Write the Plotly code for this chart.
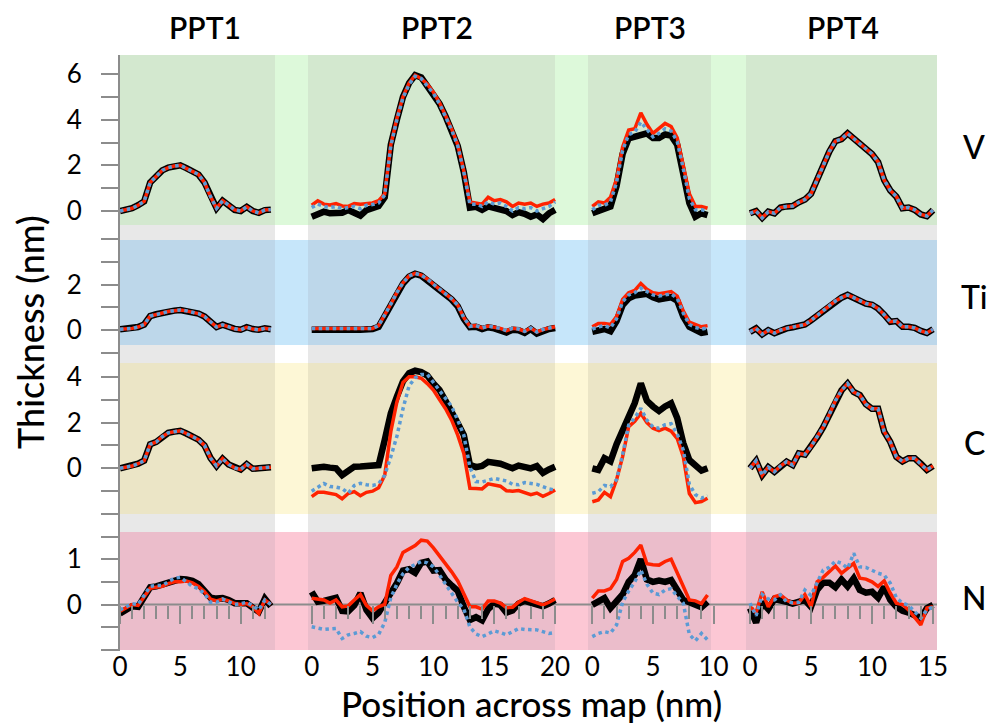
import plotly.graph_objects as go

# ---------------- data ----------------
ROWS = ["V", "Ti", "C", "N"]
PANELS = ["PPT1", "PPT2", "PPT3", "PPT4"]

X1 = [0, 0.5, 1, 1.5, 2, 2.5, 3, 3.5, 4, 4.5, 5, 5.5, 6, 6.5, 7, 7.5, 8, 8.5, 9, 9.5,
      10, 10.5, 11, 11.5, 12, 12.5]
X2 = [0, 0.5, 1, 1.5, 2, 2.5, 3, 3.5, 4, 4.5, 5, 5.5, 6, 6.5, 7, 7.5, 8, 8.5, 9, 9.5,
      10, 10.5, 11, 11.5, 12, 12.5, 13, 13.5, 14, 14.5, 15, 15.5, 16, 16.5, 17, 17.5,
      18, 18.5, 19, 19.5, 20]
X3 = [0, 0.5, 1, 1.5, 2, 2.5, 3, 3.5, 4, 4.5, 5, 5.5, 6, 6.5, 7, 7.5, 8, 8.5, 9, 9.5]
X4 = [0, 0.5, 1, 1.5, 2, 2.5, 3, 3.5, 4, 4.5, 5, 5.5, 6, 6.5, 7, 7.5, 8, 8.5, 9, 9.5,
      10, 10.5, 11, 11.5, 12, 12.5, 13, 13.5, 14, 14.5, 15]

# PPT1
V1 = [0, 0.05, 0.12, 0.25, 0.42, 1.25, 1.5, 1.78, 1.9, 1.97, 2.0, 1.88, 1.74, 1.6, 1.25,
      0.63, 0.12, 0.45, 0.26, 0.05, 0.0, 0.18, 0.0, -0.08, 0.04, 0.06]
Ti1 = [0.04, 0.06, 0.08, 0.14, 0.25, 0.62, 0.7, 0.77, 0.82, 0.86, 0.89, 0.85, 0.79, 0.73,
       0.6, 0.35, 0.14, 0.24, 0.14, 0.06, 0.02, 0.13, 0.05, 0.02, 0.08, 0.04]
C1 = [0, 0.05, 0.1, 0.2, 0.33, 1.05, 1.15, 1.38, 1.55, 1.6, 1.64, 1.52, 1.38, 1.25, 1.0,
      0.45, 0.1, 0.42, 0.17, 0.02, -0.05, 0.18, -0.02, 0.0, 0.05, 0.05]
N1_black = [-0.2, -0.1, -0.04, -0.05, 0.2, 0.38, 0.4, 0.44, 0.5, 0.54, 0.56, 0.55, 0.52,
            0.45, 0.32, 0.15, 0.13, 0.14, 0.1, 0.03, 0.03, 0.03, -0.07, -0.16, 0.13, -0.04]
N1_red = [-0.15, -0.08, 0.0, -0.02, 0.18, 0.36, 0.38, 0.4, 0.46, 0.5, 0.5, 0.52, 0.48, 0.4,
          0.28, 0.12, 0.08, 0.12, 0.08, 0.02, 0.0, 0.02, -0.05, -0.2, 0.1, 0.0]
N1_blue = [-0.12, -0.05, 0.02, 0.0, 0.2, 0.4, 0.42, 0.42, 0.5, 0.58, 0.6, 0.5, 0.4, 0.35,
           0.24, 0.05, 0.05, 0.12, 0.07, 0.0, 0.02, 0.05, -0.03, -0.12, 0.1, 0.0]

# PPT2
V2_black = [-0.25, -0.1, -0.03, -0.1, -0.12, -0.08, 0.04, -0.05, -0.2, 0.04, 0.1, 0.22, 0.6,
            2.9, 4.0, 5.0, 5.6, 5.95, 5.85, 5.5, 5.15, 4.7, 4.15, 3.55, 2.85, 1.7, 0.15,
            0.18, 0.05, 0.2, 0.15, 0.05, 0.0, -0.18, -0.05, -0.12, -0.25, -0.15, -0.35,
            -0.1, 0.05]
V2_red = [0.26, 0.45, 0.3, 0.26, 0.33, 0.22, 0.2, 0.33, 0.3, 0.33, 0.35, 0.45, 0.75, 2.9,
          4.05, 5.0, 5.6, 5.95, 5.8, 5.55, 5.2, 4.75, 4.2, 3.6, 2.9, 1.75, 0.4, 0.35, 0.3,
          0.6, 0.45, 0.5, 0.4, 0.2, 0.35, 0.3, 0.35, 0.2, 0.3, 0.35, 0.5]
V2_blue = [0.15, 0.3, 0.2, 0.15, 0.2, 0.1, 0.15, 0.2, 0.1, 0.25, 0.28, 0.35, 0.7, 2.85, 4.0,
           4.95, 5.55, 5.9, 5.8, 5.5, 5.15, 4.7, 4.15, 3.55, 2.85, 1.7, 0.3, 0.3, 0.2, 0.4,
           0.3, 0.35, 0.2, 0.0, 0.15, 0.1, 0.15, 0.0, 0.1, 0.2, 0.4]
Ti2_black = [0.02, 0.03, 0.04, 0.03, 0.02, 0.04, 0.03, 0.03, 0.02, 0.04, 0.05, 0.15, 0.6,
             1.1, 1.6, 2.05, 2.35, 2.48, 2.4, 2.2, 1.97, 1.75, 1.52, 1.35, 1.05, 0.5, 0.13,
             0.15, 0.05, 0.13, 0.08, 0.02, -0.1, 0.02, 0.0, -0.12, 0.05, -0.15, -0.02, 0.05,
             0.1]
Ti2_red = [0.08, 0.08, 0.07, 0.06, 0.05, 0.07, 0.05, 0.06, 0.05, 0.06, 0.08, 0.2, 0.65,
           1.15, 1.65, 2.08, 2.38, 2.5, 2.42, 2.25, 2.02, 1.8, 1.57, 1.38, 1.1, 0.55, 0.17,
           0.2, 0.1, 0.18, 0.13, 0.08, -0.02, 0.08, 0.05, -0.05, 0.1, -0.08, 0.03, 0.1, 0.15]
C2_black = [0.0, 0.05, 0.07, 0.03, 0.0, -0.3, -0.1, 0.07, 0.08, 0.1, 0.1, 0.14, 1.24, 2.4,
            3.13, 3.8, 4.15, 4.26, 4.2, 4.05, 3.7, 3.42, 2.95, 2.5, 1.97, 1.45, 0.15, 0.05,
            0.1, 0.28, 0.25, 0.2, 0.1, 0.0, 0.12, 0.05, 0.0, 0.1, -0.2, -0.05, 0.07]
C2_red = [-1.24, -1.05, -1.05, -1.1, -1.15, -1.33, -1.1, -1.02, -1.2, -1.05, -1.0, -0.85,
          -0.3, 1.6, 2.9, 3.75, 4.0, 4.0, 3.93, 3.7, 3.42, 3.0, 2.6, 2.1, 1.45, 0.65, -0.87,
          -0.88, -0.9, -0.68, -0.72, -0.78, -0.98, -1.0, -0.97, -1.05, -1.15, -1.08, -1.22,
          -1.1, -0.95]
C2_blue = [-1.0, -0.85, -0.66, -0.8, -0.82, -0.88, -1.09, -0.75, -0.66, -0.72, -0.75, -0.68,
           -0.3, 0.5, 1.4, 2.6, 3.6, 3.95, 4.1, 4.1, 3.75, 3.45, 3.1, 2.7, 2.1, 1.45, 0.05,
           -0.58, -0.6, -0.5, -0.44, -0.5, -0.55, -0.7, -0.72, -0.62, -0.66, -0.7, -0.8,
           -0.9, -0.95]
N2_black = [0.28, 0.06, 0.08, 0.12, 0.15, -0.14, -0.15, -0.02, 0.25, -0.12, -0.3, -0.18,
            0.03, 0.28, 0.47, 0.75, 0.78, 0.7, 0.92, 0.95, 0.75, 0.76, 0.55, 0.42, 0.3,
            -0.05, -0.34, -0.28, -0.35, -0.1, 0.02, -0.01, -0.18, -0.13, 0.02, 0.08, 0.04,
            0.0, -0.04, 0.02, 0.1]
N2_red = [0.14, 0.12, 0.1, 0.03, 0.1, -0.05, -0.03, 0.1, 0.22, -0.02, -0.14, -0.05, 0.0,
          0.64, 0.83, 1.15, 1.22, 1.3, 1.42, 1.4, 1.25, 1.08, 0.9, 0.72, 0.52, 0.25, -0.05,
          -0.05, -0.1, 0.08, 0.08, 0.03, -0.07, -0.06, 0.05, 0.13, 0.08, 0.03, -0.01, 0.05,
          0.12]
N2_blue = [-0.49, -0.52, -0.55, -0.54, -0.53, -0.75, -0.67, -0.64, -0.6, -0.7, -0.73, -0.66,
           -0.4, 0.15, 0.45, 0.68, 0.82, 0.88, 0.95, 0.92, 0.83, 0.65, 0.45, 0.25, 0.05,
           -0.1, -0.5, -0.65, -0.71, -0.65, -0.58, -0.62, -0.67, -0.6, -0.53, -0.55, -0.56,
           -0.56, -0.6, -0.64, -0.62]

# PPT3
V3_black = [-0.1, 0.0, 0.17, 0.2, 1.1, 2.5, 3.18, 3.25, 3.33, 3.4, 3.2, 3.2, 3.35, 3.3,
            2.9, 1.7, 0.35, -0.25, -0.1, -0.18]
V3_red = [0.2, 0.4, 0.35, 0.6, 1.4, 2.8, 3.55, 3.6, 4.3, 3.8, 3.4, 3.6, 3.84, 3.7, 3.2,
          2.0, 0.75, 0.2, 0.2, 0.12]
V3_blue = [0.05, 0.25, 0.25, 0.4, 1.25, 2.65, 3.35, 3.45, 3.9, 3.6, 3.25, 3.4, 3.6, 3.5,
           3.05, 1.85, 0.55, 0.05, 0.05, 0.0]
Ti3_black = [-0.07, 0.0, 0.05, -0.05, 0.4, 1.1, 1.4, 1.52, 1.55, 1.6, 1.45, 1.35, 1.4, 1.45,
             1.3, 0.6, 0.15, 0.0, -0.12, -0.07]
Ti3_red = [0.15, 0.3, 0.3, 0.25, 0.6, 1.35, 1.65, 1.75, 2.05, 1.8, 1.65, 1.6, 1.65, 1.7,
           1.5, 0.85, 0.35, 0.25, 0.15, 0.2]
Ti3_blue = [0.05, 0.15, 0.2, 0.1, 0.5, 1.25, 1.55, 1.65, 1.85, 1.7, 1.55, 1.5, 1.55, 1.6,
            1.4, 0.75, 0.25, 0.12, 0.05, 0.1]
C3_black = [0.0, -0.07, 0.44, 0.3, 1.05, 1.67, 2.4, 2.85, 3.71, 2.95, 2.7, 2.5, 2.7, 2.84,
            2.2, 1.1, 0.36, 0.1, -0.1, 0.0]
C3_red = [-1.46, -1.38, -1.05, -1.24, -0.5, 0.51, 1.82, 2.05, 2.4, 2.0, 1.75, 1.65, 1.75,
          1.62, 1.3, 0.51, -1.1, -1.5, -1.45, -1.31]
C3_blue = [-1.09, -1.02, -0.75, -0.8, -0.5, 0.6, 1.89, 2.2, 2.62, 2.1, 1.8, 1.75, 1.9, 1.95,
           1.5, 0.8, -0.7, -1.15, -1.3, -1.2]
N3_black = [-0.01, 0.06, 0.14, -0.08, 0.06, 0.22, 0.5, 0.65, 1.0, 0.55, 0.5, 0.53, 0.5,
            0.54, 0.32, 0.1, 0.05, 0.0, -0.06, 0.06]
N3_red = [0.14, 0.3, 0.3, 0.35, 0.55, 0.95, 1.02, 1.15, 1.31, 0.9, 0.88, 0.87, 0.95, 1.0,
          0.7, 0.39, 0.1, 0.08, 0.02, 0.21]
N3_blue = [-0.71, -0.64, -0.6, -0.63, -0.45, 0.05, 0.3, 0.5, 0.76, 0.45, 0.25, 0.22, 0.32,
           0.35, 0.18, 0.03, -0.66, -0.8, -0.64, -0.78]

# PPT4
V4 = [-0.1, 0.0, -0.3, -0.03, -0.1, 0.15, 0.2, 0.22, 0.38, 0.5, 0.75, 1.4, 1.95, 2.6, 3.06,
      3.15, 3.4, 3.18, 2.95, 2.72, 2.5, 2.15, 1.35, 0.9, 0.63, 0.12, 0.15, 0.05, -0.15,
      -0.22, 0.04]
Ti4 = [-0.07, 0.08, -0.18, 0.0, -0.13, 0.0, 0.08, 0.13, 0.18, 0.25, 0.43, 0.64, 0.85, 1.08,
       1.28, 1.43, 1.55, 1.43, 1.28, 1.17, 1.12, 0.95, 0.68, 0.37, 0.4, 0.15, 0.15, 0.1,
       -0.03, -0.12, 0.04]
C4 = [0.0, 0.33, -0.3, 0.05, -0.15, 0.1, 0.29, 0.14, 0.65, 0.6, 0.95, 1.35, 1.8, 2.35, 2.95,
      3.4, 3.7, 3.33, 3.2, 2.8, 2.6, 2.6, 1.6, 1.15, 0.5, 0.3, 0.44, 0.44, 0.2, -0.07, 0.1]
N4_black = [-0.08, -0.4, 0.05, -0.1, 0.12, 0.1, 0.06, 0.02, 0.05, 0.1, -0.05, 0.32, 0.48,
            0.48, 0.38, 0.55, 0.4, 0.58, 0.32, 0.26, 0.28, 0.15, 0.39, 0.1, -0.05, -0.14,
            -0.18, -0.25, -0.3, -0.08, -0.01]
N4_red = [-0.05, -0.18, 0.28, -0.05, 0.17, 0.21, 0.1, 0.03, 0.04, 0.22, -0.05, 0.5, 0.6,
          0.72, 0.85, 0.69, 0.8, 0.91, 0.58, 0.56, 0.5, 0.4, 0.52, 0.25, 0.03, 0.0, -0.12,
          -0.3, -0.45, -0.08, -0.05]
N4_blue = [0.03, -0.25, 0.22, 0.12, 0.1, 0.21, 0.06, 0.04, 0.05, 0.32, 0.2, 0.5, 0.76, 0.82,
           0.96, 0.91, 0.8, 1.13, 0.83, 0.82, 0.75, 0.69, 0.65, 0.47, 0.15, 0.03, -0.02,
           -0.15, -0.3, -0.12, -0.05]

Y_TICKVALS = {"V": [0, 1, 2, 3, 4, 5, 6], "Ti": [-1, 0, 1, 2, 3, 4],
              "C": [-2, -1, 0, 1, 2, 3, 4], "N": [-1, -0.5, 0, 0.5, 1, 1.5]}
Y_TICKTEXT = {"V": ["0", "", "2", "", "4", "", "6"], "Ti": ["", "0", "", "2", "", ""],
              "C": ["", "", "0", "", "2", "", "4"], "N": ["", "", "0", "", "1", ""]}

XS = [X1, X2, X3, X4]
SERIES = {  # (row, col) -> (black, red, blue)
    (0, 0): (V1, V1, V1), (1, 0): (Ti1, Ti1, Ti1), (2, 0): (C1, C1, C1),
    (3, 0): (N1_black, N1_red, N1_blue),
    (0, 1): (V2_black, V2_red, V2_blue), (1, 1): (Ti2_black, Ti2_red, Ti2_red),
    (2, 1): (C2_black, C2_red, C2_blue), (3, 1): (N2_black, N2_red, N2_blue),
    (0, 2): (V3_black, V3_red, V3_blue), (1, 2): (Ti3_black, Ti3_red, Ti3_blue),
    (2, 2): (C3_black, C3_red, C3_blue), (3, 2): (N3_black, N3_red, N3_blue),
    (0, 3): (V4, V4, V4), (1, 3): (Ti4, Ti4, Ti4), (2, 3): (C4, C4, C4),
    (3, 3): (N4_black, N4_red, N4_blue),
}

# ---------------- layout geometry (window pixels) ----------------
PAGE_OFFSET = 8              # default body margin of the html page
W, H = 995 - PAGE_OFFSET, 726 - PAGE_OFFSET
FONT = "Lato"
GREY = "#8c8c8c"
TICK_SIZE = 26


def fx(p):
    return (p - PAGE_OFFSET) / W


def fy(p):
    return 1 - (p - PAGE_OFFSET) / H


# x: (domain left, domain right, pixel of x=0, px per nm)
COLGEO = [(120, 276, 120, 12.07), (306, 560, 311.7, 12.17),
          (586, 716, 592.3, 12.13), (744, 940, 750, 12.2)]
# y: (domain top, domain bottom, pixel of y=0, px per unit)
ROWGEO = [(55, 225, 211, 22.83), (225, 365, 330.2, 22.75),
          (365, 530, 468.3, 22.9), (530, 651, 604.5, 45.3)]

# background panels
COL_PANELS = [(120, 275), (308, 555), (588, 711), (746, 937)]
ROW_BANDS = [(55, 225), (240, 345), (363, 514), (532, 650)]
ROW_GAPS = [(225, 240), (345, 363), (514, 532)]
BAND_LIGHT = ["#ddf9da", "#c6e6fa", "#fdf7d6", "#fcc7d4"]
BAND_DARK = ["#d3e8cf", "#bdd7ea", "#ebe5c6", "#ebbdcb"]
GAP_GREY = "#e8e8e8"

fig = go.Figure()
layout = {}

for r in range(4):
    for c in range(4):
        n = r * 4 + c + 1
        xa = "x" if n == 1 else f"x{n}"
        ya = "y" if n == 1 else f"y{n}"
        black, red, blue = SERIES[(r, c)]
        xs = XS[c]
        fig.add_trace(go.Scatter(x=xs, y=black, xaxis=xa, yaxis=ya, mode="lines",
                                 line=dict(color="black", width=6.5), showlegend=False,
                                 hoverinfo="skip"))
        fig.add_trace(go.Scatter(x=xs, y=red, xaxis=xa, yaxis=ya, mode="lines",
                                 line=dict(color="#ff2200", width=3.5), showlegend=False,
                                 hoverinfo="skip"))
        fig.add_trace(go.Scatter(x=xs, y=blue, xaxis=xa, yaxis=ya, mode="lines",
                                 line=dict(color="#5b9bd5", width=3.5, dash="dot"),
                                 showlegend=False, hoverinfo="skip"))

        dl, dr, z, s = COLGEO[c]
        xrange = [(dl - z) / s, (dr - z) / s]
        yt, yb, yz, ys = ROWGEO[r]
        yrange = [(yz - yb) / ys, (yz - yt) / ys]

        xkey = "xaxis" if n == 1 else f"xaxis{n}"
        ykey = "yaxis" if n == 1 else f"yaxis{n}"

        if r == 3:
            layout[xkey] = dict(
                domain=[fx(dl), fx(dr)], range=xrange, anchor="free",
                position=fy(yz), side="bottom", showline=False, automargin=False,
                showgrid=False, zeroline=False, tickmode="linear", tick0=0, dtick=5,
                ticks="outside", ticklen=18, tickwidth=2, tickcolor=GREY,
                minor=dict(ticks="outside", ticklen=13, tickwidth=2, tickcolor=GREY,
                           tick0=0, dtick=1, showgrid=False),
                tickfont=dict(family=FONT, size=TICK_SIZE, color="black"),
                ticklabelstandoff=21, fixedrange=True)
        else:
            layout[xkey] = dict(domain=[fx(dl), fx(dr)], range=xrange, anchor=ya,
                                visible=False, automargin=False, fixedrange=True)

        if c == 0:
            layout[ykey] = dict(
                domain=[fy(yb), fy(yt)], range=yrange, anchor=xa, side="left",
                showline=True, linecolor=GREY, linewidth=2, showgrid=False,
                zeroline=False, tickmode="array", tickvals=Y_TICKVALS[ROWS[r]],
                ticktext=Y_TICKTEXT[ROWS[r]], ticks="outside", ticklen=17, tickwidth=2,
                tickcolor=GREY, tickfont=dict(family=FONT, size=TICK_SIZE, color="black"),
                ticklabelstandoff=14, automargin=False, fixedrange=True)
        else:
            layout[ykey] = dict(domain=[fy(yb), fy(yt)], range=yrange, anchor=xa,
                                visible=False, automargin=False, fixedrange=True)

shapes = []
for r in range(4):
    t, b = ROW_BANDS[r]
    shapes.append(dict(type="rect", xref="paper", yref="paper", x0=fx(120), x1=fx(937),
                       y0=fy(b), y1=fy(t), fillcolor=BAND_LIGHT[r], line_width=0,
                       layer="below"))
    for (cl, cr) in COL_PANELS:
        shapes.append(dict(type="rect", xref="paper", yref="paper", x0=fx(cl), x1=fx(cr),
                           y0=fy(b), y1=fy(t), fillcolor=BAND_DARK[r], line_width=0,
                           layer="below"))
for (t, b) in ROW_GAPS:
    for (cl, cr) in COL_PANELS:
        shapes.append(dict(type="rect", xref="paper", yref="paper", x0=fx(cl), x1=fx(cr),
                           y0=fy(b), y1=fy(t), fillcolor=GAP_GREY, line_width=0,
                           layer="below"))
# zero line of the N row across all panels
shapes.append(dict(type="line", xref="paper", yref="y13", x0=fx(120), x1=fx(937),
                   y0=0, y1=0, line=dict(color=GREY, width=2), layer="below"))

annotations = []
HEAD_X = [205, 437, 650, 843]
for name, px in zip(PANELS, HEAD_X):
    annotations.append(dict(text=name, x=fx(px), y=fy(27), xref="paper", yref="paper",
                            showarrow=False, xanchor="center", yanchor="middle",
                            font=dict(family=FONT, size=30, color="black", weight=600)))
ROWLAB_Y = [147, 297, 442, 597]
for name, py in zip(ROWS, ROWLAB_Y):
    annotations.append(dict(text=name, x=fx(974), y=fy(py), xref="paper", yref="paper",
                            showarrow=False, xanchor="center", yanchor="middle",
                            font=dict(family=FONT, size=32, color="black", weight=500)))
annotations.append(dict(text="Thickness (nm)", x=fx(30), y=fy(332), xref="paper",
                        yref="paper", showarrow=False, textangle=-90, xanchor="center",
                        yanchor="middle",
                        font=dict(family=FONT, size=36, color="black", weight=500)))
annotations.append(dict(text="Position across map (nm)", x=fx(531), y=fy(703),
                        xref="paper", yref="paper", showarrow=False, xanchor="center",
                        yanchor="middle",
                        font=dict(family=FONT, size=35, color="black", weight=500)))

fig.update_layout(width=W, height=H, margin=dict(l=0, r=0, t=0, b=0, autoexpand=False),
                  paper_bgcolor="white", plot_bgcolor="rgba(0,0,0,0)",
                  shapes=shapes, annotations=annotations, showlegend=False,
                  font=dict(family=FONT), **layout)

fig.write_html("out.html")
